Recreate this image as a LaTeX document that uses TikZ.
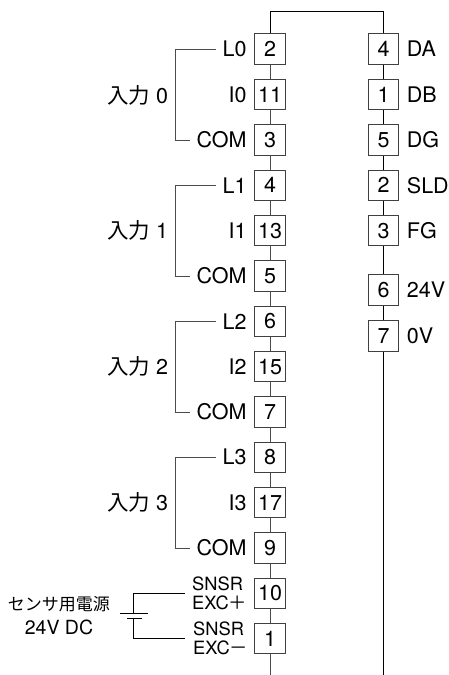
\documentclass[tikz,border=0pt]{standalone}
\usepackage{fontspec}
\setmainfont{TeX Gyre Heros}
\newfontfamily\cjk{Noto Sans CJK JP}
\newcommand{\lbsize}{\fontsize{21.5}{21.5}\selectfont}
\newcommand{\smsize}{\fontsize{18.3}{18.3}\selectfont}
\tikzset{
  term/.style={draw=black!75,line width=1pt,fill=white,minimum width=30.5pt,minimum height=30.5pt,inner sep=0pt,font=\lbsize},
  wire/.style={draw=black!70,line width=1pt},
  bwire/.style={draw=black,line width=1pt},
  lft/.style={anchor=east,inner sep=0pt,font=\lbsize},
  rgt/.style={anchor=west,inner sep=0pt,font=\lbsize},
  grp/.style={anchor=center,inner sep=0pt,font=\lbsize},
  two/.style={anchor=west,inner sep=0pt,font=\smsize},
}
\begin{document}
\begin{tikzpicture}[x=1pt,y=-1pt]
\useasboundingbox (0,0) rectangle (449,675);
% free wire ends
\coordinate (topL) at (270,11.5);
\coordinate (topR) at (383.5,11.5);
\coordinate (botL) at (270,675);
\coordinate (botR) at (383.5,675);
% left terminals
\foreach \nm/\txt/\yy in {a/2/49,b/11/94.5,c/3/140,d/4/185.3,e/13/230.6,f/5/276,g/6/321.3,h/15/366.6,i/7/412,j/8/457.3,k/17/502.6,l/9/548,m/10/593.3,n/1/638.6}
  \node[term] (\nm) at (270,\yy) {\txt};
% right terminals
\foreach \nm/\txt/\yy in {p/4/49,q/1/94.5,r/5/140,s/2/185.3,t/3/230.6,u/6/290,v/7/336}
  \node[term] (\nm) at (383.5,\yy) {\txt};
% column wires
\draw[bwire] (a) -- (topL) -- (topR) -- (p);
\foreach \x/\y in {a/b,b/c,c/d,d/e,e/f,f/g,g/h,h/i,i/j,j/k,k/l,l/m,m/n}
  \draw[wire] (\x) -- (\y);
\draw[wire] (n) -- (botL);
\foreach \x/\y in {p/q,q/r,r/s,s/t,t/u,u/v}
  \draw[bwire] (\x) -- (\y);
\draw[bwire] (v) -- (botR);
% left labels
\foreach \nm/\at/\txt in {la/a/L0,lb/b/I0,lc/c/COM,ld/d/L1,le/e/I1,lf/f/COM,lg/g/L2,lh/h/I2,li/i/COM,lj/j/L3,lk/k/I3,ll/l/COM}
  \node[lft] (\nm) at ([xshift=-7.5pt]\at.west) {\txt};
% right labels
\foreach \nm/\at/\txt in {lp/p/DA,lq/q/DB,lr/r/DG,ls/s/SLD,lt/t/FG,lu/u/24V,lv/v/0V}
  \node[rgt] (\nm) at ([xshift=7.5pt]\at.east) {\txt};
% group labels
\node[grp] (g0) at (137.5,95) {{\cjk 入力} 0};
\node[grp] (g1) at (137.5,230.6) {{\cjk 入力} 1};
\node[grp] (g2) at (137.5,366.6) {{\cjk 入力} 2};
\node[grp] (g3) at (137.5,502.6) {{\cjk 入力} 3};
% brackets
\foreach \t/\b in {la/lc,ld/lf,lg/li,lj/ll}
  \draw[wire] ([xshift=-6pt]\t.west) -| (175,0 |- \b.west) -- ([xshift=-6pt]\b.west);
% sensor labels
\node[two] (spa) at (192,584) {SNSR};
\node[two] (spb) at (192,603) {EXC\smash{\cjk ＋}};
\node[two] (sma) at (193,629) {SNSR};
\node[two] (smb) at (193,648) {EXC\smash{\cjk －}};
\node[inner sep=0pt,font=\fontsize{17}{17}\selectfont] (psu) at (59,604) {\cjk センサ用電源};
\node[inner sep=0pt,font=\fontsize{19.5}{19.5}\selectfont] (psv) at (59,627) {24V DC};
% battery
\coordinate (plateL) at (120,613);
\coordinate (plateR) at (148,613);
\coordinate (shortL) at (127,618);
\coordinate (shortR) at (142,618);
\coordinate (cT) at (133.5,613);
\coordinate (cB) at (133.5,618);
\coordinate (endT) at (185,593.3);
\coordinate (endB) at (185,638.6);
\draw[bwire] (plateL) -- (plateR);
\draw[bwire] (shortL) -- (shortR);
\draw[bwire] (cT) |- (endT);
\draw[bwire] (cB) |- (endB);
\end{tikzpicture}
\end{document}
